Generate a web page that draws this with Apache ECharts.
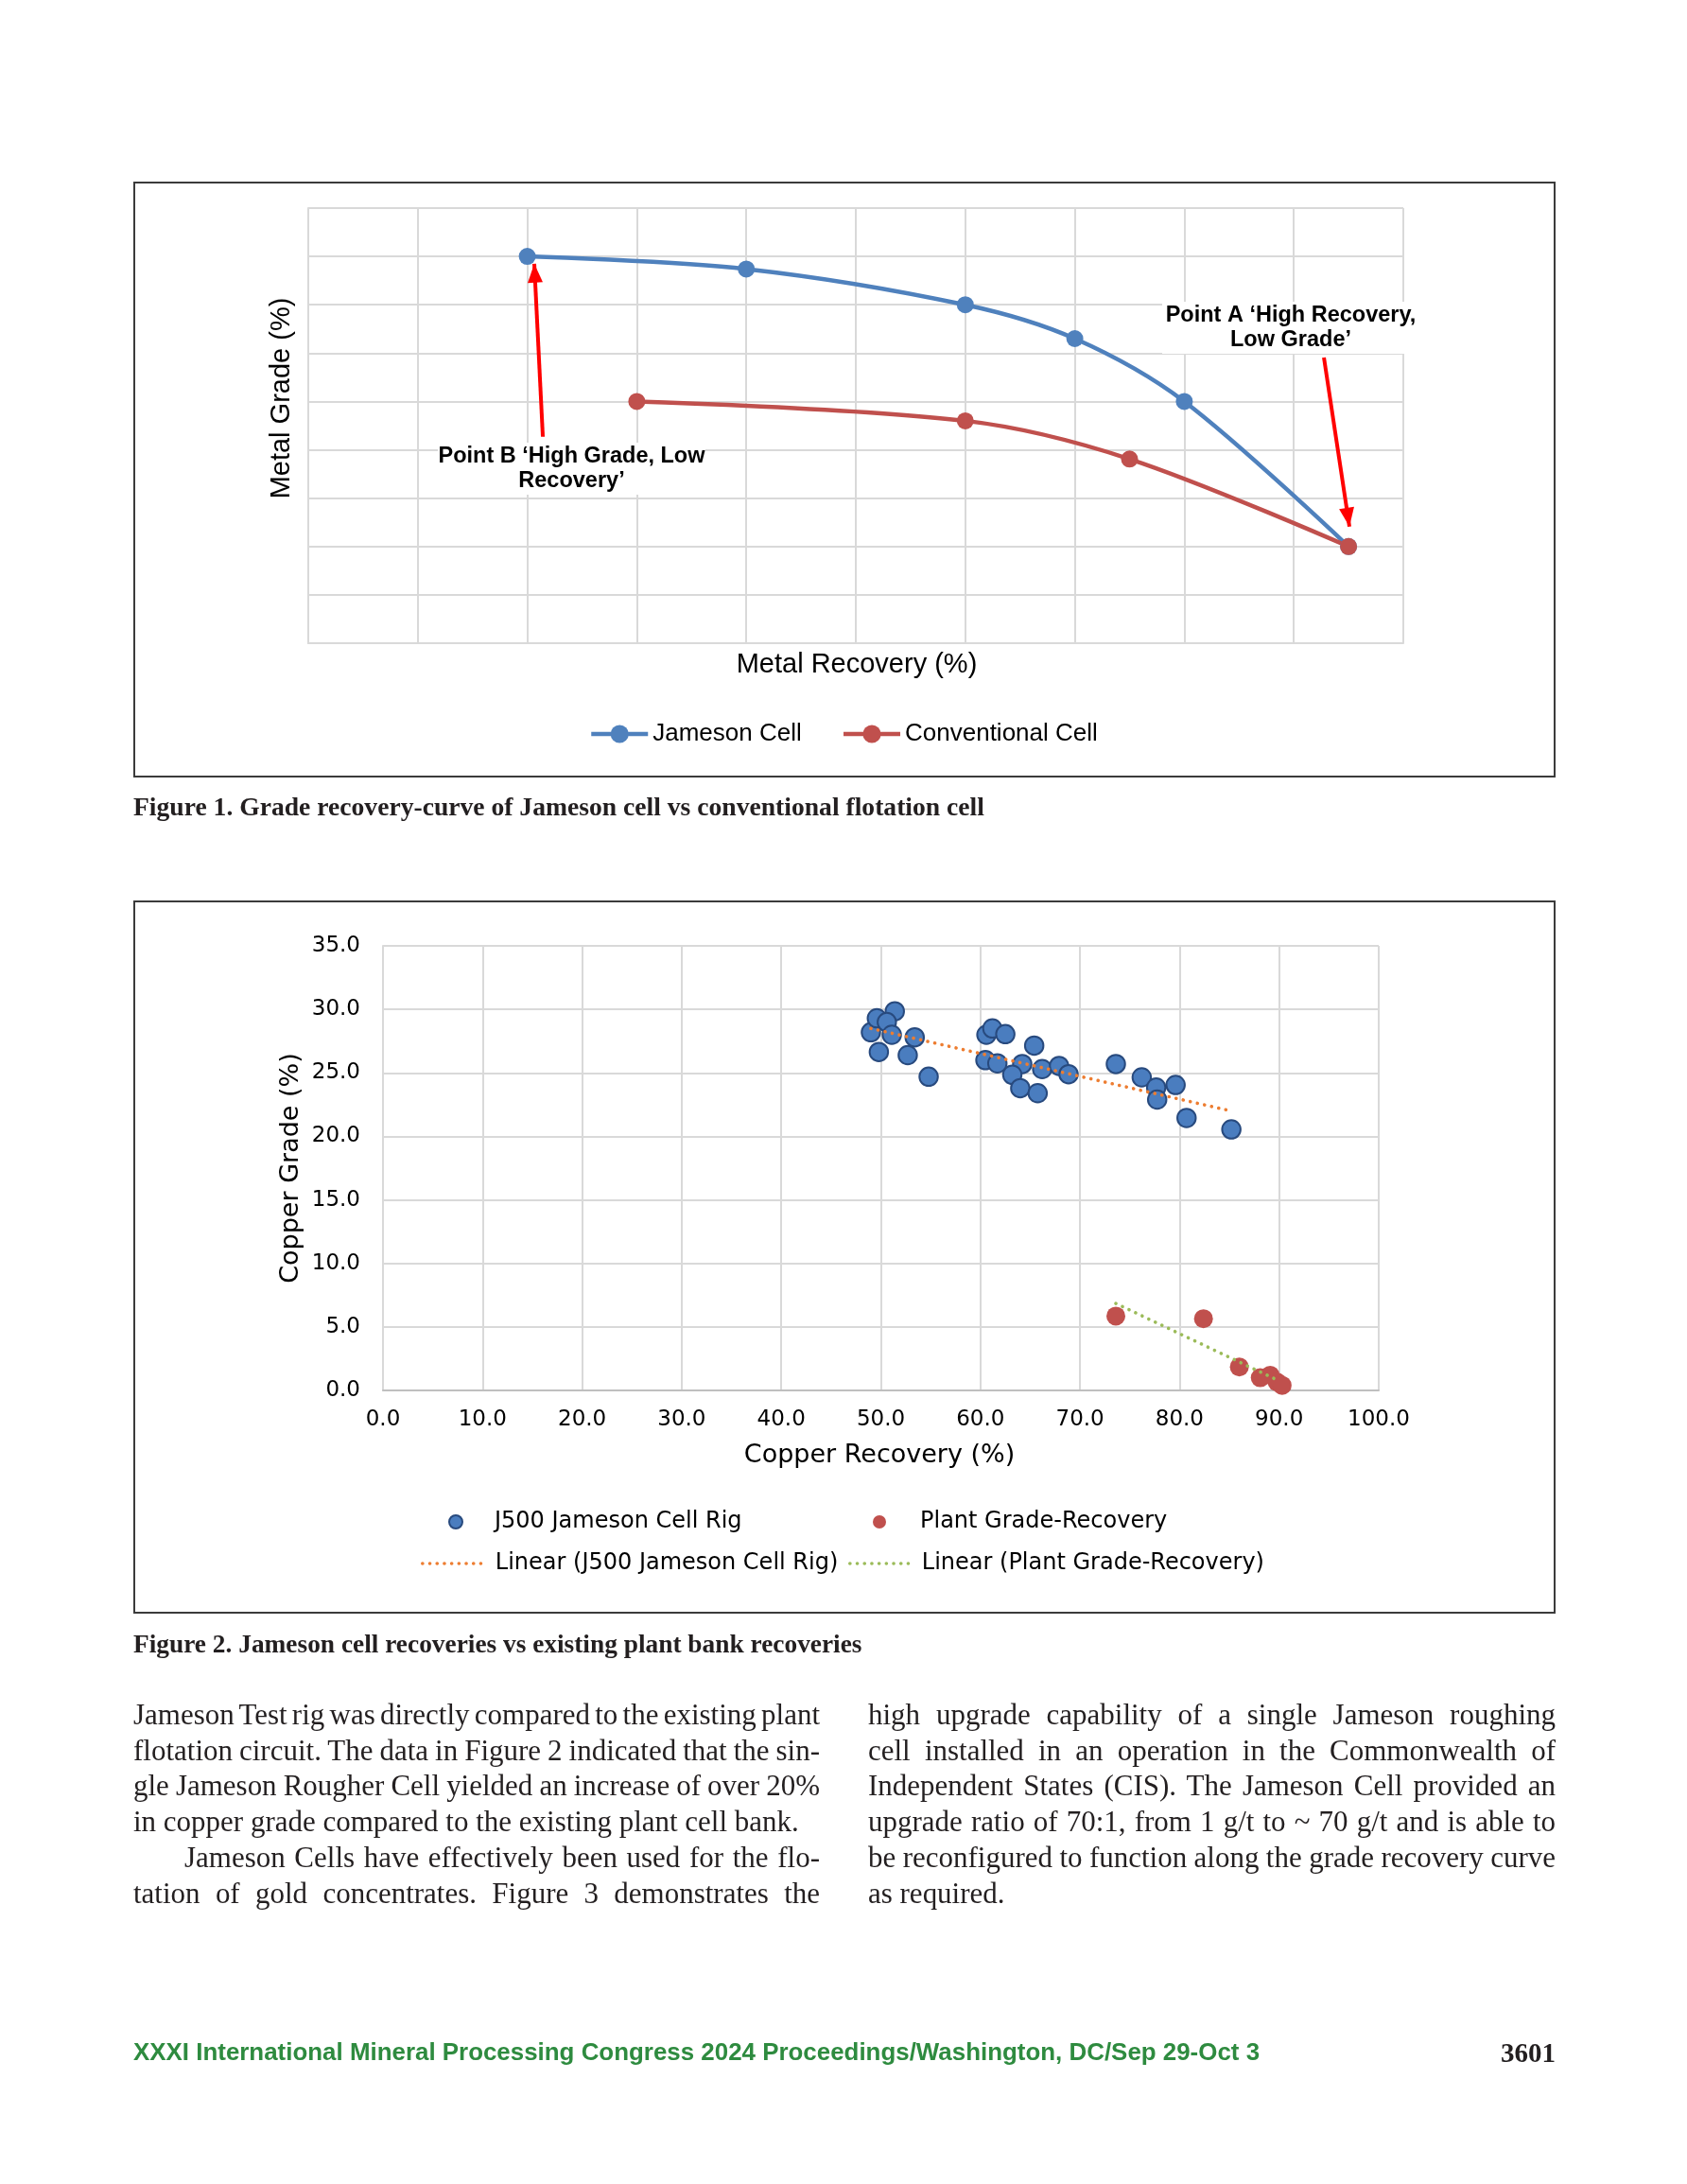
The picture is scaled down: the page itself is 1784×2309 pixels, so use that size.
<!DOCTYPE html>
<html>
<head>
<meta charset="utf-8">
<title>Jameson cell grade-recovery</title>
<script src="https://cdn.jsdelivr.net/npm/echarts@6.0.0/dist/echarts.min.js"></script>
<style>
  html, body { margin:0; padding:0; background:#ffffff; }
  #page { position:relative; width:1784px; height:2309px; overflow:hidden; background:#fff; }
  .frame { position:absolute; border:2px solid #3b3b3b; box-sizing:border-box; }
  #chart { position:absolute; left:0; top:0; width:1784px; height:2309px; }
  .txt { position:absolute; white-space:nowrap; line-height:1; color:#231f20; }
  .cap { font-family:"Liberation Serif", "Times New Roman", serif; font-weight:bold; }
  .body { font-family:"Liberation Serif", "Times New Roman", serif; }
  .foot { font-family:"Liberation Sans", Arial, sans-serif; font-weight:bold; color:#2e8b3f; }
  .pno { font-family:"Liberation Serif", serif; font-weight:bold; }
</style>
</head>
<body>
<div id="page">
  <div class="frame" style="left:141px;top:192px;width:1504px;height:630px;"></div>
  <div class="frame" style="left:141px;top:952px;width:1504px;height:754px;"></div>
  <div id="chart"></div>
</div>
<script>
// ---------------- Figure 1 data ----------------
const jamesonRecovery = [20, 40, 60, 70, 80, 95];
const jamesonGrade    = [8.0, 7.74, 7.0, 6.3, 5.0, 2.0];
const conventionalRecovery = [30, 60, 75, 95];
const conventionalGrade    = [5.0, 4.6, 3.81, 2.0];
// annotation arrows (start -> tip), in data units
const arrowBStart = [21.42, 4.27];
const arrowBTip   = [20.64, 7.85];
const arrowAStart = [92.75, 5.91];
const arrowATip   = [95.08, 2.41];

// ---------------- Figure 2 data ----------------
const rigRecovery = [49.0, 49.6, 51.4, 50.6, 51.1, 49.8, 53.4, 52.7, 54.8, 60.6, 61.2, 62.5, 65.4, 60.5, 61.7,
                     64.2, 63.2, 64.0, 65.75, 66.2, 67.9, 68.85, 73.6, 76.2, 77.65, 77.75, 79.6, 80.7, 85.2];
const rigGrade    = [28.2, 29.3, 29.85, 29.0, 28.0, 26.65, 27.8, 26.4, 24.7, 28.0, 28.5, 28.05, 27.15, 26.0, 25.75,
                     25.7, 24.85, 23.8, 23.4, 25.3, 25.55, 24.9, 25.7, 24.65, 23.85, 22.9, 24.05, 21.45, 20.55];
const plantRecovery = [73.6, 82.4, 86.0, 88.1, 89.1, 89.8, 90.3];
const plantGrade    = [5.85, 5.65, 1.85, 1.0, 1.2, 0.65, 0.4];
const rigTrendRecovery   = [49.0, 84.9];
const rigTrendGrade      = [28.5, 22.05];
const plantTrendRecovery = [73.6, 90.0];
const plantTrendGrade    = [6.85, 0.75];

// ---------------- Text ----------------
const caption1 = "Figure 1. Grade recovery-curve of Jameson cell vs conventional flotation cell";
const caption2 = "Figure 2. Jameson cell recoveries vs existing plant bank recoveries";
const leftLines = [
  ["Jameson Test rig was directly compared to the existing plant", true, 0],
  ["flotation circuit. The data in Figure 2 indicated that the sin-", true, 0],
  ["gle Jameson Rougher Cell yielded an increase of over 20%", true, 0],
  ["in copper grade compared to the existing plant cell bank.", false, 0],
  ["Jameson Cells have effectively been used for the flo-", true, 54],
  ["tation of gold concentrates. Figure 3 demonstrates the", true, 0]
];
const rightLines = [
  ["high upgrade capability of a single Jameson roughing", true, 0],
  ["cell installed in an operation in the Commonwealth of", true, 0],
  ["Independent States (CIS). The Jameson Cell provided an", true, 0],
  ["upgrade ratio of 70:1, from 1 g/t to ~ 70 g/t and is able to", true, 0],
  ["be reconfigured to function along the grade recovery curve", true, 0],
  ["as required.", false, 0]
];
const footerText = "XXXI International Mineral Processing Congress 2024 Proceedings/Washington, DC/Sep 29-Oct 3";
const pageNumber = "3601";

function zip(a, b) { return a.map((v, i) => [v, b[i]]); }

// ---------------- HTML text layout ----------------
const page = document.getElementById('page');
function makeText(cls, text, fs) {
  const d = document.createElement('div');
  d.className = 'txt ' + cls;
  d.style.fontSize = fs + 'px';
  d.textContent = text;
  page.appendChild(d);
  return d;
}
function widthOf(d) { return d.getBoundingClientRect().width; }
function fitText(cls, text, baseFs, targetW, left, cy) {
  const d = makeText(cls, text, baseFs);
  const fs = baseFs * targetW / widthOf(d);
  d.style.fontSize = fs + 'px';
  d.style.left = left + 'px';
  d.style.top = (cy - fs / 2) + 'px';
  return d;
}

// captions
fitText('cap', caption1, 26, 900, 141, 853);
fitText('cap', caption2, 26, 771, 141, 1739);

// body text: calibrate size on a non-justified line
const probe = makeText('body', leftLines[3][0], 27);
const bodyFs = 27 * 704 / widthOf(probe);
page.removeChild(probe);
function placeColumn(lines, left, width) {
  lines.forEach((ln, i) => {
    const [text, justify, indent] = ln;
    const d = makeText('body', text, bodyFs);
    const w = widthOf(d);
    const target = width - indent;
    if (justify) {
      const spaces = (text.match(/ /g) || []).length;
      if (spaces) d.style.wordSpacing = ((target - w) / spaces) + 'px';
    }
    const cy = 1812.5 + i * 37.7;
    d.style.left = (left + indent) + 'px';
    d.style.top = (cy - bodyFs / 2) + 'px';
  });
}
placeColumn(leftLines, 141, 726);
placeColumn(rightLines, 918, 727);

// footer
fitText('foot', footerText, 23, 1192, 141, 2170);
const pn = makeText('pno', pageNumber, 29);
pn.style.left = (1645 - widthOf(pn)) + 'px';
pn.style.top = (2170 - 14.5) + 'px';

// ---------------- ECharts ----------------
const chart = echarts.init(document.getElementById('chart'), null, { renderer: 'canvas' });
const gridGray = '#d9d9d9';
const sans = '"Liberation Sans", Arial, sans-serif';
const verdana = '"DejaVu Sans", Verdana, sans-serif';
const dotted = [0.1, 7.6];

const option = {
  animation: false,
  backgroundColor: 'transparent',
  grid: [
    { left: 326, top: 220, width: 1158, height: 460, containLabel: false, outerBoundsMode: 'none' },
    { left: 405, top: 1000, width: 1053, height: 470, containLabel: false, outerBoundsMode: 'none' }
  ],
  xAxis: [
    { gridIndex: 0, type: 'value', min: 0, max: 100, interval: 10,
      axisLabel: { show: false }, axisTick: { show: false },
      axisLine: { show: true, lineStyle: { color: gridGray, width: 2 } },
      splitLine: { show: true, lineStyle: { color: gridGray, width: 2 } } },
    { gridIndex: 1, type: 'value', min: 0, max: 100, interval: 10,
      axisLabel: { show: true, formatter: v => v.toFixed(1), fontFamily: verdana, fontSize: 23, color: '#000', margin: 20 },
      axisTick: { show: false },
      axisLine: { show: true, lineStyle: { color: '#bfbfbf', width: 2 } },
      splitLine: { show: true, lineStyle: { color: gridGray, width: 2 } } }
  ],
  yAxis: [
    { gridIndex: 0, type: 'value', min: 0, max: 9, interval: 1,
      axisLabel: { show: false }, axisTick: { show: false },
      axisLine: { show: true, lineStyle: { color: gridGray, width: 2 } },
      splitLine: { show: true, lineStyle: { color: gridGray, width: 2 } } },
    { gridIndex: 1, type: 'value', min: 0, max: 35, interval: 5,
      axisLabel: { show: true, formatter: v => v.toFixed(1), fontFamily: verdana, fontSize: 23, color: '#000', margin: 24,
                   padding: [6, 0, 0, 0] },
      axisTick: { show: false },
      axisLine: { show: true, lineStyle: { color: gridGray, width: 2 } },
      splitLine: { show: true, lineStyle: { color: gridGray, width: 2 } } }
  ],
  legend: [
    { data: ['Jameson Cell', 'Conventional Cell'], left: 623, top: 775 - 12, padding: 0,
      itemWidth: 60, itemHeight: 24, itemGap: 42,
      lineStyle: { width: 4.5 },
      textStyle: { fontFamily: sans, fontSize: 26, color: '#000', lineHeight: 24 } },
    { data: ['J500 Jameson Cell Rig'], left: 474, top: 1604 - 7, padding: 0,
      itemWidth: 72, itemHeight: 14,
      textStyle: { fontFamily: verdana, fontSize: 24, color: '#000', lineHeight: 14 } },
    { data: ['Plant Grade-Recovery'], left: 923, top: 1604 - 7, padding: 0,
      itemWidth: 76, itemHeight: 14,
      textStyle: { fontFamily: verdana, fontSize: 24, color: '#000', lineHeight: 14 } },
    { data: [{ name: 'Linear (J500 Jameson Cell Rig)', itemStyle: { opacity: 0 } }], left: 445, top: 1648 - 7, padding: 0,
      itemWidth: 64, itemHeight: 14,
      lineStyle: { color: '#ED7D31', width: 3.6, type: dotted, cap: 'round' },
      textStyle: { fontFamily: verdana, fontSize: 24, color: '#000', lineHeight: 14, padding: [0, 0, 0, 8] } },
    { data: [{ name: 'Linear (Plant Grade-Recovery)', itemStyle: { opacity: 0 } }], left: 897, top: 1648 - 7, padding: 0,
      itemWidth: 66, itemHeight: 14,
      lineStyle: { color: '#9BBB59', width: 3.6, type: dotted, cap: 'round' },
      textStyle: { fontFamily: verdana, fontSize: 24, color: '#000', lineHeight: 14, padding: [0, 0, 0, 5] } }
  ],
  series: [
    { name: 'Jameson Cell', type: 'line', xAxisIndex: 0, yAxisIndex: 0,
      data: zip(jamesonRecovery, jamesonGrade), smooth: 0.33,
      symbol: 'circle', symbolSize: 18,
      lineStyle: { color: '#4F81BD', width: 4.5 }, itemStyle: { color: '#4F81BD' } },
    { name: 'Conventional Cell', type: 'line', xAxisIndex: 0, yAxisIndex: 0,
      data: zip(conventionalRecovery, conventionalGrade), smooth: 0.33,
      symbol: 'circle', symbolSize: 18,
      lineStyle: { color: '#C0504D', width: 4.5 }, itemStyle: { color: '#C0504D' },
      markLine: {
        silent: true, animation: false,
        symbol: ['none', 'triangle'], symbolSize: [16, 20], symbolOffset: [[0, 0], [0, 10]],
        label: { show: false },
        lineStyle: { color: '#ff0000', width: 4, type: 'solid' },
        emphasis: { disabled: true },
        data: [
          [{ coord: arrowBStart }, { coord: arrowBTip }],
          [{ coord: arrowAStart }, { coord: arrowATip }]
        ]
      } },
    { name: 'J500 Jameson Cell Rig', type: 'scatter', xAxisIndex: 1, yAxisIndex: 1,
      data: zip(rigRecovery, rigGrade), symbol: 'circle', symbolSize: 19.5,
      itemStyle: { color: '#4A7DBF', borderColor: '#284A7E', borderWidth: 2, opacity: 1 } },
    { name: 'Plant Grade-Recovery', type: 'scatter', xAxisIndex: 1, yAxisIndex: 1,
      data: zip(plantRecovery, plantGrade), symbol: 'circle', symbolSize: 20,
      itemStyle: { color: '#C0504D', opacity: 1 } },
    { name: 'Linear (J500 Jameson Cell Rig)', type: 'line', xAxisIndex: 1, yAxisIndex: 1,
      data: zip(rigTrendRecovery, rigTrendGrade), symbol: 'none',
      itemStyle: { color: '#ED7D31' },
      lineStyle: { color: '#ED7D31', width: 3.6, type: dotted, cap: 'round' } },
    { name: 'Linear (Plant Grade-Recovery)', type: 'line', xAxisIndex: 1, yAxisIndex: 1,
      data: zip(plantTrendRecovery, plantTrendGrade), symbol: 'none',
      itemStyle: { color: '#9BBB59' },
      lineStyle: { color: '#9BBB59', width: 3.6, type: dotted, cap: 'round' } }
  ],
  graphic: [
    { type: 'text', x: 298, y: 421, rotation: Math.PI / 2, silent: true,
      style: { text: 'Metal Grade (%)', font: '29px ' + sans, fill: '#000', align: 'center', verticalAlign: 'middle' } },
    { type: 'text', x: 906, y: 703, silent: true,
      style: { text: 'Metal Recovery (%)', font: '29px ' + sans, fill: '#000', align: 'center', verticalAlign: 'middle' } },
    // white text boxes behind the annotations (mask the gridlines)
    { type: 'rect', silent: true, z: 100, shape: { x: 1229, y: 319, width: 272, height: 55 }, style: { fill: '#ffffff' } },
    { type: 'rect', silent: true, z: 100, shape: { x: 463, y: 468, width: 283, height: 55 }, style: { fill: '#ffffff' } },
    { type: 'text', x: 1365, y: 347, silent: true, z: 101,
      style: { text: 'Point A \u2018High Recovery,\nLow Grade\u2019', font: 'bold 23.5px ' + sans, fill: '#000',
               lineHeight: 26, align: 'center', verticalAlign: 'middle' } },
    { type: 'text', x: 604.5, y: 496, silent: true, z: 101,
      style: { text: 'Point B \u2018High Grade, Low\nRecovery\u2019', font: 'bold 23.5px ' + sans, fill: '#000',
               lineHeight: 26, align: 'center', verticalAlign: 'middle' } },
    { type: 'text', x: 308, y: 1235, rotation: Math.PI / 2, silent: true,
      style: { text: 'Copper Grade (%)', font: '27px ' + verdana, fill: '#000', align: 'center', verticalAlign: 'middle' } },
    { type: 'text', x: 930, y: 1539, silent: true,
      style: { text: 'Copper Recovery (%)', font: '27px ' + verdana, fill: '#000', align: 'center', verticalAlign: 'middle' } }
  ]
};
chart.setOption(option);
</script>
</body>
</html>
